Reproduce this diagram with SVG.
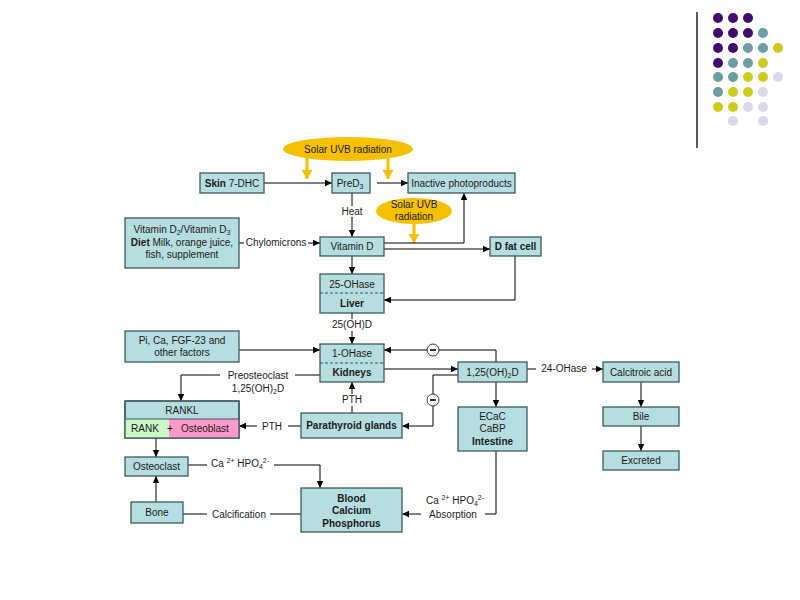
<svg xmlns="http://www.w3.org/2000/svg" width="800" height="600" viewBox="0 0 800 600">
<style>
text{font-family:"Liberation Sans",Arial,sans-serif;font-size:10px;fill:#1a1a1a;text-anchor:middle}
.b{font-weight:bold}
.box{fill:#b6dde0;stroke:#3d5a5c;stroke-width:1.3}
.ln{fill:none;stroke:#000;stroke-width:1}
.yl{fill:none;stroke:#f5c000;stroke-width:3}
.dash{stroke:#3d5a5c;stroke-width:1;stroke-dasharray:3,2}
.sub{font-size:7px}
</style>
<defs>
<marker id="ah" markerUnits="userSpaceOnUse" markerWidth="8" markerHeight="8" refX="7" refY="4" orient="auto"><path d="M0,0.8 L7,4 L0,7.2 z" fill="#000"/></marker>
<marker id="ay" markerUnits="userSpaceOnUse" markerWidth="12" markerHeight="12" refX="9" refY="5.5" orient="auto"><path d="M0,0 L9,5.5 L0,11 z" fill="#f5c000"/></marker>
</defs>
<rect width="800" height="600" fill="#fff"/>

<!-- decoration -->
<g id="decor">
<line x1="697" y1="12" x2="697" y2="148" stroke="#000" stroke-width="1.3"/>
<g fill="#400c70">
<circle cx="718" cy="18" r="5"/><circle cx="733" cy="18" r="5"/><circle cx="748" cy="18" r="5"/>
<circle cx="718" cy="33" r="5"/><circle cx="733" cy="33" r="5"/><circle cx="748" cy="33" r="5"/>
<circle cx="718" cy="48" r="5"/><circle cx="733" cy="48" r="5"/>
<circle cx="718" cy="63" r="5"/>
</g>
<g fill="#6a9ea2">
<circle cx="763" cy="33" r="5"/>
<circle cx="748" cy="48" r="5"/><circle cx="763" cy="48" r="5"/>
<circle cx="733" cy="63" r="5"/><circle cx="748" cy="63" r="5"/>
<circle cx="718" cy="77" r="5"/><circle cx="733" cy="77" r="5"/>
<circle cx="718" cy="92" r="5"/>
</g>
<g fill="#cccc1e">
<circle cx="778" cy="48" r="5"/>
<circle cx="763" cy="63" r="5"/>
<circle cx="748" cy="77" r="5"/><circle cx="763" cy="77" r="5"/>
<circle cx="733" cy="92" r="5"/><circle cx="748" cy="92" r="5"/>
<circle cx="718" cy="107" r="5"/><circle cx="733" cy="107" r="5"/>
</g>
<g fill="#d8d8ea">
<circle cx="778" cy="77" r="5"/>
<circle cx="763" cy="92" r="5"/>
<circle cx="748" cy="107" r="5"/><circle cx="763" cy="107" r="5"/>
<circle cx="733" cy="121" r="5"/><circle cx="763" cy="121" r="5"/>
</g>
</g>

<!-- connectors -->
<g id="connectors">
<line class="yl" x1="307" y1="157" x2="307" y2="179" marker-end="url(#ay)"/>
<line class="yl" x1="388" y1="158" x2="388" y2="179" marker-end="url(#ay)"/>
<line class="yl" x1="414" y1="224" x2="414" y2="243" marker-end="url(#ay)"/>
<line class="ln" x1="264" y1="183" x2="332" y2="183" marker-end="url(#ah)"/>
<line class="ln" x1="377" y1="183" x2="408" y2="183" marker-end="url(#ah)"/>
<line class="ln" x1="352" y1="193" x2="352" y2="206"/>
<line class="ln" x1="352" y1="217" x2="352" y2="237" marker-end="url(#ah)"/>
<polyline class="ln" points="384,243 464,243 464,193" marker-end="url(#ah)"/>
<line class="ln" x1="384" y1="249" x2="490" y2="249" marker-end="url(#ah)"/>
<polyline class="ln" points="515,256 515,300 384,300" marker-end="url(#ah)"/>
<line class="ln" x1="239" y1="243" x2="244" y2="243"/>
<line class="ln" x1="308" y1="243" x2="320" y2="243" marker-end="url(#ah)"/>
<line class="ln" x1="352" y1="256" x2="352" y2="274" marker-end="url(#ah)"/>
<line class="ln" x1="352" y1="313" x2="352" y2="319"/>
<line class="ln" x1="352" y1="331" x2="352" y2="344" marker-end="url(#ah)"/>
<line class="ln" x1="239" y1="350" x2="320" y2="350" marker-end="url(#ah)"/>
<polyline class="ln" points="496,362 496,350 384,350" marker-end="url(#ah)"/>
<line class="ln" x1="384" y1="369" x2="458" y2="369" marker-end="url(#ah)"/>
<line class="ln" x1="527" y1="369" x2="536" y2="369"/>
<line class="ln" x1="592" y1="369" x2="603" y2="369" marker-end="url(#ah)"/>
<line class="ln" x1="641" y1="382" x2="641" y2="407" marker-end="url(#ah)"/>
<line class="ln" x1="641" y1="426" x2="641" y2="451" marker-end="url(#ah)"/>
<line class="ln" x1="496" y1="382" x2="496" y2="407" marker-end="url(#ah)"/>
<polyline class="ln" points="458,375 433,375 433,426 402,426" marker-end="url(#ah)"/>
<line class="ln" x1="352" y1="413" x2="352" y2="406"/>
<line class="ln" x1="352" y1="394" x2="352" y2="382" marker-end="url(#ah)"/>
<line class="ln" x1="320" y1="375" x2="295" y2="375"/>
<polyline class="ln" points="220,375 181,375 181,401" marker-end="url(#ah)"/>
<line class="ln" x1="301" y1="426" x2="288" y2="426"/>
<line class="ln" x1="257" y1="426" x2="239" y2="426" marker-end="url(#ah)"/>
<line class="ln" x1="156" y1="438" x2="156" y2="457" marker-end="url(#ah)"/>
<line class="ln" x1="156" y1="502" x2="156" y2="476" marker-end="url(#ah)"/>
<line class="ln" x1="188" y1="465" x2="207" y2="465"/>
<polyline class="ln" points="274,465 320,465 320,488" marker-end="url(#ah)"/>
<line class="ln" x1="183" y1="514" x2="207" y2="514"/>
<line class="ln" x1="270" y1="514" x2="301" y2="514"/>
<polyline class="ln" points="496,451 496,514 485,514"/>
<line class="ln" x1="421" y1="514" x2="402" y2="514" marker-end="url(#ah)"/>
</g>

<!-- connector labels -->
<g id="labels">
<text x="352" y="215">Heat</text>
<text x="276" y="246">Chylomicrons</text>
<text x="352" y="328">25(OH)D</text>
<text x="564" y="372">24-OHase</text>
<text x="352" y="403">PTH</text>
<text x="258" y="379">Preosteoclast</text>
<text x="258" y="392">1,25(OH)<tspan class="sub" dy="2">2</tspan><tspan dy="-2">D</tspan></text>
<text x="272" y="430">PTH</text>
<text x="240" y="467">Ca <tspan class="sub" dy="-4">2+</tspan><tspan dy="4"> HPO</tspan><tspan class="sub" dy="2">4</tspan><tspan class="sub" dy="-6">2-</tspan></text>
<text x="239" y="518">Calcification</text>
<text x="455" y="504">Ca <tspan class="sub" dy="-4">2+</tspan><tspan dy="4"> HPO</tspan><tspan class="sub" dy="2">4</tspan><tspan class="sub" dy="-6">2-</tspan></text>
<text x="453" y="518">Absorption</text>
</g>

<g id="minus1"><circle cx="433" cy="350" r="6" fill="#fff" stroke="#333" stroke-width="1"/><line x1="430" y1="350" x2="436" y2="350" stroke="#000" stroke-width="1.6"/></g>
<g id="minus2"><circle cx="433" cy="400" r="6" fill="#fff" stroke="#333" stroke-width="1"/><line x1="430" y1="400" x2="436" y2="400" stroke="#000" stroke-width="1.6"/></g>

<!-- nodes -->
<g id="uvb1"><ellipse cx="348" cy="149" rx="65" ry="12" fill="#f5c000"/><text x="348" y="152.5">Solar UVB radiation</text></g>
<g id="uvb2"><ellipse cx="414" cy="211" rx="38" ry="13" fill="#f5c000"/><text x="414" y="208">Solar UVB</text><text x="414" y="220">radiation</text></g>
<g id="skin"><rect class="box" x="200" y="173" width="64" height="20"/><text x="232" y="186.5"><tspan class="b">Skin</tspan> 7-DHC</text></g>
<g id="pred3"><rect class="box" x="332" y="173" width="38" height="20"/><text x="350" y="186.5">PreD<tspan class="sub" dy="2">3</tspan></text></g>
<g id="inactive"><rect class="box" x="408" y="173" width="107" height="20"/><text x="461.5" y="186.5">Inactive photoproducts</text></g>
<g id="diet"><rect class="box" x="125" y="218" width="114" height="50"/>
<text x="182" y="233">Vitamin D<tspan class="sub" dy="2">2</tspan><tspan dy="-2">/Vitamin D</tspan><tspan class="sub" dy="2">3</tspan></text>
<text x="182" y="246"><tspan class="b">Diet</tspan> Milk, orange juice,</text>
<text x="182" y="258">fish, supplement</text></g>
<g id="vitd"><rect class="box" x="320" y="237" width="64" height="19"/><text x="352" y="250">Vitamin D</text></g>
<g id="fatcell"><rect class="box" x="490" y="237" width="51" height="19"/><text class="b" x="515.5" y="250">D fat cell</text></g>
<g id="liver"><rect class="box" x="320" y="274" width="64" height="39"/><line class="dash" x1="320" y1="293" x2="384" y2="293"/><text x="352" y="287.5">25-OHase</text><text class="b" x="352" y="307">Liver</text></g>
<g id="factors"><rect class="box" x="125" y="331" width="114" height="31"/><text x="182" y="344">Pi, Ca, FGF-23 and</text><text x="182" y="356">other factors</text></g>
<g id="kidneys"><rect class="box" x="320" y="344" width="64" height="38"/><line class="dash" x1="320" y1="363" x2="384" y2="363"/><text x="352" y="357">1-OHase</text><text class="b" x="352" y="376">Kidneys</text></g>
<g id="calcitriol"><rect class="box" x="458" y="362" width="69" height="20"/><text x="492.5" y="375.5">1,25(OH)<tspan class="sub" dy="2">2</tspan><tspan dy="-2">D</tspan></text></g>
<g id="calcitroic"><rect class="box" x="603" y="362" width="76" height="20"/><text x="641" y="375.5">Calcitroic acid</text></g>
<g id="bile"><rect class="box" x="603" y="407" width="76" height="19"/><text x="641" y="420">Bile</text></g>
<g id="excreted"><rect class="box" x="603" y="451" width="76" height="19"/><text x="641" y="464">Excreted</text></g>
<g id="intestine"><rect class="box" x="458" y="407" width="69" height="44"/><text x="492.5" y="420">ECaC</text><text x="492.5" y="432">CaBP</text><text class="b" x="492.5" y="444.5">Intestine</text></g>
<g id="parathyroid"><rect class="box" x="301" y="413" width="101" height="25"/><text class="b" x="351.5" y="429">Parathyroid glands</text></g>
<g id="rankl"><rect class="box" x="125" y="401" width="114" height="37"/>
<rect x="125" y="419" width="44" height="19" fill="#ccf8c8"/><rect x="169" y="419" width="70" height="19" fill="#ff99cc"/>
<rect x="125" y="401" width="114" height="37" fill="none" stroke="#3d5a5c" stroke-width="1.3"/>
<line x1="125" y1="419" x2="239" y2="419" stroke="#3d5a5c" stroke-width="1"/>
<text x="182" y="414">RANKL</text><text x="145" y="432">RANK</text><text x="170" y="432">+</text><text x="205" y="432">Osteoblast</text></g>
<g id="osteoclast"><rect class="box" x="125" y="457" width="63" height="19"/><text x="156.5" y="470">Osteoclast</text></g>
<g id="bone"><rect class="box" x="131" y="502" width="52" height="21"/><text x="157" y="516">Bone</text></g>
<g id="blood"><rect class="box" x="301" y="488" width="101" height="44"/><text class="b" x="351.5" y="501.5">Blood</text><text class="b" x="351.5" y="514">Calcium</text><text class="b" x="351.5" y="526.5">Phosphorus</text></g>
</svg>
